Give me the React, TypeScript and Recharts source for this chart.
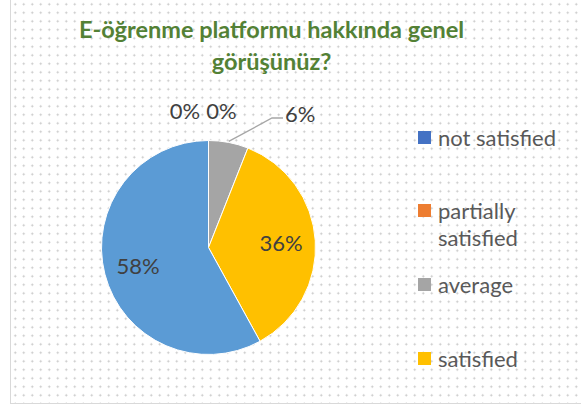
import { PieChart, Pie, Cell, Legend } from 'recharts';

const categories = ['not satisfied', 'partially satisfied', 'average', 'satisfied', 'very satisfied'];
const shares = [0, 0, 6, 36, 58];
const COLORS = ['#4472C4', '#ED7D31', '#A5A5A5', '#FFC000', '#5B9BD5'];
const TITLE = 'E-öğrenme platformu hakkında genel görüşünüz?';

const data = categories.map((name, i) => ({ name, value: shares[i] }));

const RAD = Math.PI / 180;
const FONT = 'Lato, "Open Sans", sans-serif';

// Excel "best fit" style labels: big slices inside, small ones pulled out above the pie
const renderLabel = (props: any) => {
  const { cx, cy, midAngle, outerRadius, value, index } = props;
  const textStyle = { fontFamily: FONT, fontSize: 22, fill: '#404040' };

  if (value === 0) {
    const zeroIdx = shares.slice(0, index).filter((v) => v === 0).length;
    return (
      <text
        key={`lbl-${index}`}
        x={cx - 23.5 + zeroIdx * 36.5}
        y={cy - outerRadius - 30}
        textAnchor="middle"
        dominantBaseline="central"
        {...textStyle}
      >
        {value}%
      </text>
    );
  }

  if (value < 10) {
    const sx = cx + (outerRadius + 1) * Math.cos(-midAngle * RAD);
    const sy = cy + (outerRadius + 1) * Math.sin(-midAngle * RAD);
    const ey = cy - outerRadius - 22.5;
    const ex = cx + 63.5;
    return (
      <g key={`lbl-${index}`}>
        <polyline
          points={`${sx},${sy} ${ex},${ey} ${ex + 11},${ey}`}
          fill="none"
          stroke="#A6A6A6"
          strokeWidth={1.3}
        />
        <text x={ex + 13} y={ey - 5} textAnchor="start" dominantBaseline="central" {...textStyle}>
          {value}%
        </text>
      </g>
    );
  }

  const r = outerRadius * 0.68;
  return (
    <text
      key={`lbl-${index}`}
      x={cx + r * Math.cos(-midAngle * RAD)}
      y={cy + r * Math.sin(-midAngle * RAD)}
      textAnchor="middle"
      dominantBaseline="central"
      {...textStyle}
    >
      {value}%
    </text>
  );
};

const renderLegend = (props: any) => {
  const payload = [...(props.payload || [])].sort(
    (a: any, b: any) => categories.indexOf(a.value) - categories.indexOf(b.value)
  );
  // only four entries fit in the legend box of the original
  return (
    <div>
      {payload.slice(0, 4).map((entry: any, i: number) => {
        const idx = categories.indexOf(entry.value);
        return (
          <div key={`leg-${i}`} style={{ height: 73.7, display: 'flex', alignItems: 'flex-start' }}>
            <span
              style={{
                width: 13,
                height: 13,
                marginTop: 7,
                marginRight: 7,
                flex: 'none',
                background: COLORS[idx >= 0 ? idx : i],
              }}
            />
            <span
              style={{
                width: 140,
                lineHeight: '27px',
                fontSize: 22,
                fontFamily: FONT,
                color: '#595959',
              }}
            >
              {entry.value}
            </span>
          </div>
        );
      })}
    </div>
  );
};

export default function App() {
  return (
    <div
      style={{
        position: 'absolute',
        left: 0,
        top: 0,
        width: 581,
        height: 407,
        overflow: 'hidden',
        background: '#fff',
      }}
    >
      <div
        style={{
          position: 'absolute',
          left: 10,
          top: -1,
          width: 580,
          height: 403,
          border: '1px solid #d9d9d9',
          backgroundImage: 'radial-gradient(circle, #c4c4c4 0.8px, transparent 1.2px)',
          backgroundSize: '8.5px 8.5px',
        }}
      />
      <div
        style={{
          position: 'absolute',
          left: 51.5,
          top: 13,
          width: 440,
          textAlign: 'center',
          fontFamily: FONT,
          fontWeight: 700,
          fontSize: 23.5,
          lineHeight: '32px',
          color: '#538135',
        }}
      >
        {TITLE}
      </div>
      <div style={{ position: 'absolute', left: 0, top: 0 }}>
        <PieChart width={581} height={407} margin={{ top: 0, right: 0, bottom: 0, left: 0 }}>
          <Pie
            data={data}
            dataKey="value"
            nameKey="name"
            cx={208.5}
            cy={247.5}
            outerRadius={107}
            startAngle={90}
            endAngle={-270}
            stroke="#fff"
            strokeWidth={1}
            label={renderLabel}
            labelLine={false}
            isAnimationActive={false}
          >
            {data.map((entry, index) => (
              <Cell key={`cell-${index}`} fill={COLORS[index]} />
            ))}
          </Pie>
          <Legend
            layout="vertical"
            align="right"
            verticalAlign="top"
            content={renderLegend}
            wrapperStyle={{ position: 'absolute', left: 418, top: 123.5, width: 160 }}
          />
        </PieChart>
      </div>
    </div>
  );
}
